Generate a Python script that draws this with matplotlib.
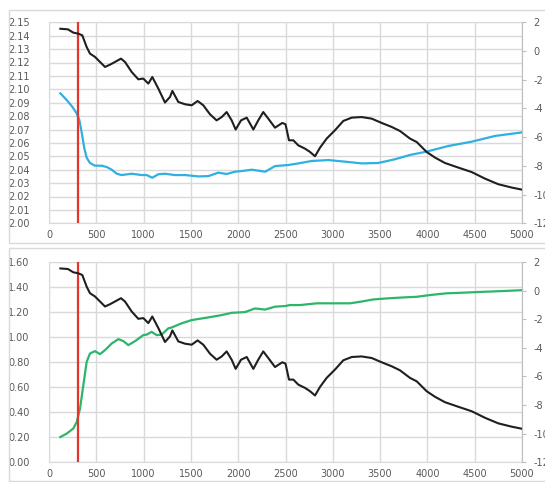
import matplotlib.pyplot as plt
from matplotlib.patches import Rectangle

# black series (secondary axis, same in both charts)
black_x = [120, 200, 257, 310, 352, 398, 433, 486, 539, 592, 645, 698, 761, 803, 874, 944, 997,
           1050, 1092, 1156, 1226, 1279, 1304, 1367, 1438, 1508, 1571, 1631, 1702, 1772, 1826,
           1878, 1931, 1973, 2030, 2090, 2160, 2212, 2265, 2318, 2389, 2466, 2500, 2537, 2583,
           2635, 2706, 2759, 2812, 2865, 2935, 3023, 3111, 3200, 3305, 3411, 3517, 3623, 3710,
           3816, 3887, 3992, 4080, 4186, 4327, 4468, 4609, 4750, 4891, 4996]
black_y = [1.55, 1.51, 1.28, 1.21, 1.09, 0.28, -0.18, -0.41, -0.76, -1.11, -0.95, -0.76, -0.53,
           -0.76, -1.46, -1.97, -1.92, -2.27, -1.81, -2.62, -3.59, -3.20, -2.78, -3.55, -3.71,
           -3.78, -3.48, -3.78, -4.41, -4.83, -4.60, -4.25, -4.83, -5.47, -4.83, -4.64, -5.47,
           -4.83, -4.25, -4.71, -5.34, -5.01, -5.10, -6.22, -6.22, -6.57, -6.80, -7.03, -7.33,
           -6.73, -6.10, -5.52, -4.87, -4.64, -4.60, -4.71, -5.01, -5.29, -5.57, -6.10, -6.34,
           -7.03, -7.42, -7.80, -8.12, -8.43, -8.89, -9.28, -9.51, -9.65]

# blue series (top chart, primary axis)
blue_x = [120, 187, 246, 293, 321, 345, 373, 398, 433, 486, 557, 610, 663, 716, 768, 874, 980,
          1033, 1092, 1156, 1226, 1332, 1438, 1579, 1684, 1790, 1878, 1966, 2037, 2144, 2286,
          2389, 2530, 2635, 2776, 2952, 3129, 3305, 3481, 3657, 3816, 3992, 4221, 4468, 4715, 4996]
blue_y = [2.097, 2.092, 2.087, 2.082, 2.077, 2.068, 2.056, 2.049, 2.045, 2.043, 2.043, 2.042,
          2.040, 2.037, 2.036, 2.037, 2.036, 2.036, 2.034, 2.0366, 2.037, 2.036, 2.036, 2.035,
          2.0352, 2.0378, 2.0368, 2.0385, 2.039, 2.040, 2.0385, 2.0427, 2.0435, 2.0447, 2.0465,
          2.0472, 2.046, 2.0447, 2.045, 2.0478, 2.051, 2.0535, 2.0577, 2.0609, 2.0652, 2.0678]

# green series (bottom chart, primary axis)
green_x = [120, 187, 257, 293, 328, 363, 398, 433, 486, 539, 592, 663, 733, 786, 838, 910, 997,
           1033, 1085, 1138, 1191, 1261, 1297, 1402, 1508, 1614, 1720, 1826, 1931, 2072, 2178,
           2283, 2389, 2495, 2548, 2653, 2830, 3182, 3288, 3429, 3570, 3746, 3887, 4027, 4204,
           4380, 4591, 4803, 5000]
green_y = [0.202, 0.229, 0.27, 0.322, 0.43, 0.616, 0.802, 0.869, 0.888, 0.864, 0.896, 0.949,
           0.984, 0.968, 0.936, 0.968, 1.016, 1.02, 1.042, 1.016, 1.02, 1.07, 1.077, 1.11, 1.136,
           1.149, 1.162, 1.176, 1.194, 1.2, 1.229, 1.22, 1.243, 1.248, 1.256, 1.256, 1.27, 1.27,
           1.282, 1.301, 1.309, 1.317, 1.322, 1.336, 1.35, 1.355, 1.362, 1.368, 1.375]

marker_x = 305
x_ticks = list(range(0, 5001, 500))
top_left_ticks = [2.00 + 0.01 * i for i in range(16)]
bottom_left_ticks = [0.2 * i for i in range(9)]
right_ticks = list(range(-12, 3, 2))

W, H = 545, 482
fig = plt.figure(figsize=(W / 100, H / 100), dpi=100)
txt = "#595959"
grid_c = "#d9d9d9"

# chart area frames
for (x0, y0, x1, y1) in [(9, 10, 548, 243), (9, 248, 548, 481)]:
    fig.add_artist(Rectangle((x0 / W, 1 - y1 / H), (x1 - x0) / W, (y1 - y0) / H,
                             transform=fig.transFigure, fill=False, edgecolor=grid_c, lw=1))


def panel(rect, line_x, line_y, color, lticks, lfmt):
    ax = fig.add_axes(rect)
    ax.plot(line_x, line_y, color=color, lw=1.6, solid_joinstyle="round", zorder=3)
    ax.set_xlim(0, 5000)
    ax.set_ylim(lticks[0], lticks[-1])
    ax.set_xticks(x_ticks)
    ax.set_yticks(lticks)
    ax.set_yticklabels([lfmt.format(t) for t in lticks])
    ax.grid(True, color=grid_c, lw=1)
    ax.set_axisbelow(True)
    ax.tick_params(axis="y", length=0, pad=14, labelsize=7, labelcolor=txt)
    ax.tick_params(axis="x", length=0, pad=5, labelsize=7, labelcolor=txt)
    for s in ax.spines.values():
        s.set_color(grid_c)
    ax.axvline(marker_x, color="#e8322c", lw=1.6, zorder=5)

    ax2 = ax.twinx()
    ax2.plot(black_x, black_y, color="#1f1f1f", lw=1.5, solid_joinstyle="round", zorder=4)
    ax2.set_ylim(-12, 2)
    ax2.set_yticks(right_ticks)
    ax2.set_yticklabels([str(t) for t in right_ticks])
    ax2.tick_params(axis="y", length=3, color="#bfbfbf", pad=5, labelsize=7, labelcolor=txt)
    for s in ax2.spines.values():
        s.set_visible(False)
    ax2.spines["right"].set_visible(True)
    ax2.spines["right"].set_color("#bfbfbf")
    return ax


left, right = 49, 522
panel([left / W, 1 - 223.3 / H, (right - left) / W, (223.3 - 22.3) / H],
      blue_x, blue_y, "#2fb0e2", top_left_ticks, "{:.2f}")
panel([left / W, 1 - 462.3 / H, (right - left) / W, (462.3 - 262) / H],
      green_x, green_y, "#2db56a", bottom_left_ticks, "{:.2f}")

fig.savefig("out.png", dpi=100)
